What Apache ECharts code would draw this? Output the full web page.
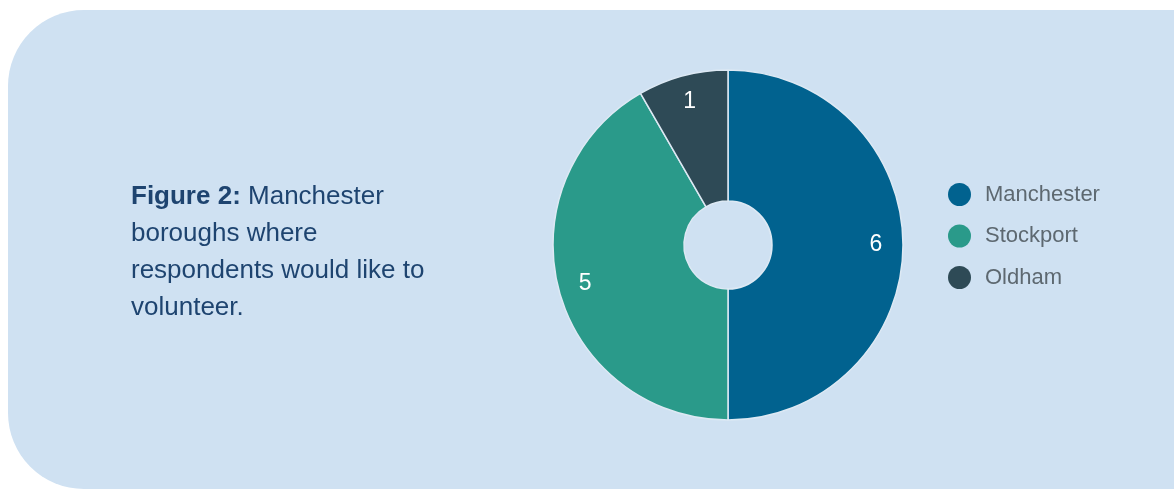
<!DOCTYPE html>
<html>
<head>
<meta charset="utf-8">
<script src="https://cdn.jsdelivr.net/npm/echarts@6/dist/echarts.min.js"></script>
<style>
  html, body { margin: 0; padding: 0; background: #ffffff; }
  #chart { width: 1174px; height: 489px; }
</style>
</head>
<body>
<div id="chart"></div>
<script>
// 数据
const boroughs = ["Manchester", "Stockport", "Oldham"];
const counts = [6, 5, 1];
const colors = ["#01628f", "#2a9a8a", "#2e4a56"];

const pieData = boroughs.map((name, i) => ({
  name,
  value: counts[i],
  itemStyle: { color: colors[i] },
}));

const chart = echarts.init(document.getElementById("chart"));

const option = {
  animation: false,
  graphic: [
    {
      type: "rect",
      z: -10,
      shape: { x: 8, y: 10, width: 1240, height: 479, r: 76 },
      style: { fill: "#cfe1f2" },
    },
    {
      type: "text",
      left: 131,
      top: 178,
      style: {
        text: "{b|Figure 2:} Manchester\nboroughs where\nrespondents would like to\nvolunteer.",
        font: "26px 'Liberation Sans', Arial, sans-serif",
        fill: "#1e4470",
        lineHeight: 37,
        rich: {
          b: { fontWeight: "bold", fontSize: 26, fill: "#1e4470", lineHeight: 37 },
        },
      },
    },
  ],
  legend: {
    orient: "vertical",
    left: 943,
    top: 178,
    icon: "circle",
    itemWidth: 23,
    itemHeight: 23,
    itemGap: 18.5,
    data: boroughs,
    itemStyle: { borderWidth: 0 },
    textStyle: {
      color: "#5d6870",
      fontSize: 22,
      fontFamily: "'Liberation Sans', Arial, sans-serif",
      padding: [0, 0, 0, 9],
    },
  },
  series: [
    {
      type: "pie",
      center: [728, 245],
      radius: [44, 175],
      startAngle: 90,
      clockwise: true,
      silent: true,
      label: { show: false },
      labelLine: { show: false },
      itemStyle: { borderColor: "#dde9f4", borderWidth: 1.5 },
      data: pieData,
    },
    {
      // 只用于放置数值标签
      type: "pie",
      center: [728, 245],
      radius: [114, 176],
      startAngle: 90,
      clockwise: true,
      silent: true,
      legendHoverLink: false,
      itemStyle: { color: "rgba(0,0,0,0)" },
      label: {
        show: true,
        position: "inside",
        formatter: "{c}",
        color: "#ffffff",
        fontSize: 23,
        fontFamily: "'Liberation Sans', Arial, sans-serif",
      },
      labelLine: { show: false },
      data: boroughs.map((name, i) => ({ name, value: counts[i] })),
    },
  ],
};

chart.setOption(option);
</script>
</body>
</html>
